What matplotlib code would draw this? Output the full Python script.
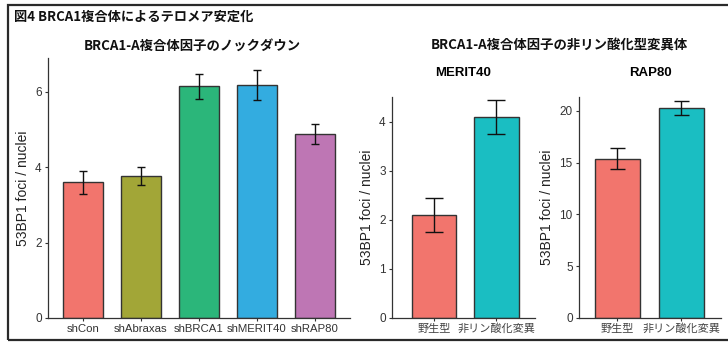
import matplotlib
matplotlib.use("Agg")
import matplotlib.pyplot as plt
from matplotlib.patches import Rectangle

plt.rcParams['font.family'] = ['Liberation Sans', 'Noto Sans CJK JP', 'DejaVu Sans']

# Data
kd_labels = ["shCon", "shAbraxas", "shBRCA1", "shMERIT40", "shRAP80"]
kd_values = [3.6, 3.76, 6.15, 6.18, 4.88]
kd_errors = [0.30, 0.24, 0.33, 0.40, 0.26]
kd_colors = ["#F2756D", "#A2A637", "#2BB67A", "#33ACE0", "#BE76B4"]

mut_labels = ["野生型", "非リン酸化変異"]
merit_values = [2.1, 4.1]
merit_errors = [0.35, 0.35]
rap_values = [15.4, 20.3]
rap_errors = [1.0, 0.7]
mut_colors = ["#F2756D", "#1ABEC2"]

W, H = 728, 345
fig = plt.figure(figsize=(W / 100, H / 100), dpi=100)

def ax_px(l, r, t, b):
    return fig.add_axes([l / W, (H - b) / H, (r - l) / W, (b - t) / H])

def style(ax):
    for s in ["top", "right"]:
        ax.spines[s].set_visible(False)
    for s in ["left", "bottom"]:
        ax.spines[s].set_color("#333333")
        ax.spines[s].set_linewidth(0.9)
    ax.tick_params(axis="both", length=2.5, width=0.8, color="#333333",
                   labelcolor="#333333", labelsize=8.5)
    ax.tick_params(axis="x", labelsize=8.2)
    ax.tick_params(axis="y", pad=2)
    ax.tick_params(axis="x", pad=1.5)

def cjk_ticks(ax):
    for t in ax.get_xticklabels():
        t.set_family(['Noto Sans CJK JP', 'DejaVu Sans'])
        t.set_fontsize(8)
        t.set_color("#444444")

# Left panel
ax1 = ax_px(48, 350, 58, 318)
x1 = range(len(kd_labels))
ax1.bar(x1, kd_values, width=0.7, color=kd_colors, edgecolor="#333333", linewidth=1.0)
ax1.errorbar(x1, kd_values, yerr=kd_errors, fmt="none", ecolor="#111111",
             elinewidth=1.0, capsize=3.2, capthick=1.0)
ax1.set_xlim(-0.6, 4.6)
ax1.set_ylim(0, 6.9)
ax1.set_yticks([0, 2, 4, 6])
ax1.set_xticks(list(x1))
ax1.set_xticklabels(kd_labels)
ax1.set_ylabel("53BP1 foci / nuclei", fontsize=10, color="#222222", labelpad=4)
style(ax1)

# Middle panel
ax2 = ax_px(392, 535, 97, 318)
x2 = range(len(mut_labels))
ax2.bar(x2, merit_values, width=0.71, color=mut_colors, edgecolor="#333333", linewidth=1.0)
ax2.errorbar(x2, merit_values, yerr=merit_errors, fmt="none", ecolor="#111111",
             elinewidth=1.0, capsize=6.8, capthick=1.0)
ax2.set_xlim(-0.68, 1.62)
ax2.set_ylim(0, 4.51)
ax2.set_yticks([0, 1, 2, 3, 4])
ax2.set_xticks(list(x2))
ax2.set_xticklabels(mut_labels)
ax2.set_ylabel("53BP1 foci / nuclei", fontsize=10, color="#222222", labelpad=4)
ax2.set_title("MERIT40", fontsize=9.5, fontweight="bold", pad=15)
style(ax2)
cjk_ticks(ax2)

# Right panel
ax3 = ax_px(579, 721, 97, 318)
ax3.bar(x2, rap_values, width=0.7, color=mut_colors, edgecolor="#333333", linewidth=1.0)
ax3.errorbar(x2, rap_values, yerr=rap_errors, fmt="none", ecolor="#111111",
             elinewidth=1.0, capsize=5.4, capthick=1.0)
ax3.set_xlim(-0.6, 1.62)
ax3.set_ylim(0, 21.35)
ax3.set_yticks([0, 5, 10, 15, 20])
ax3.set_xticks(list(x2))
ax3.set_xticklabels(mut_labels)
ax3.set_ylabel("53BP1 foci / nuclei", fontsize=10, color="#222222", labelpad=4)
ax3.set_title("RAP80", fontsize=9.5, fontweight="bold", pad=15)
style(ax3)
cjk_ticks(ax3)

# Titles
cjk = ['Noto Sans CJK JP', 'DejaVu Sans']
fig.text(14 / W, 1 - 17 / H, "図4 BRCA1複合体によるテロメア安定化", fontsize=9.5,
         fontweight="bold", ha="left", va="center", color="#111111", family=cjk)
fig.text(192 / W, 1 - 46 / H, "BRCA1-A複合体因子のノックダウン", fontsize=9.6,
         fontweight="bold", ha="center", va="center", color="#111111", family=cjk)
fig.text(559 / W, 1 - 46 / H, "BRCA1-A複合体因子の非リン酸化型変異体", fontsize=9.6,
         fontweight="bold", ha="center", va="center", color="#111111", family=cjk)

# Frame
fig.add_artist(Rectangle((8 / W, (H - 340) / H), (W + 10 - 8) / W, (340 - 5) / H,
                         transform=fig.transFigure, fill=False,
                         edgecolor="#2a2a2a", linewidth=1.6, clip_on=False))

fig.savefig("out.png", dpi=100)
